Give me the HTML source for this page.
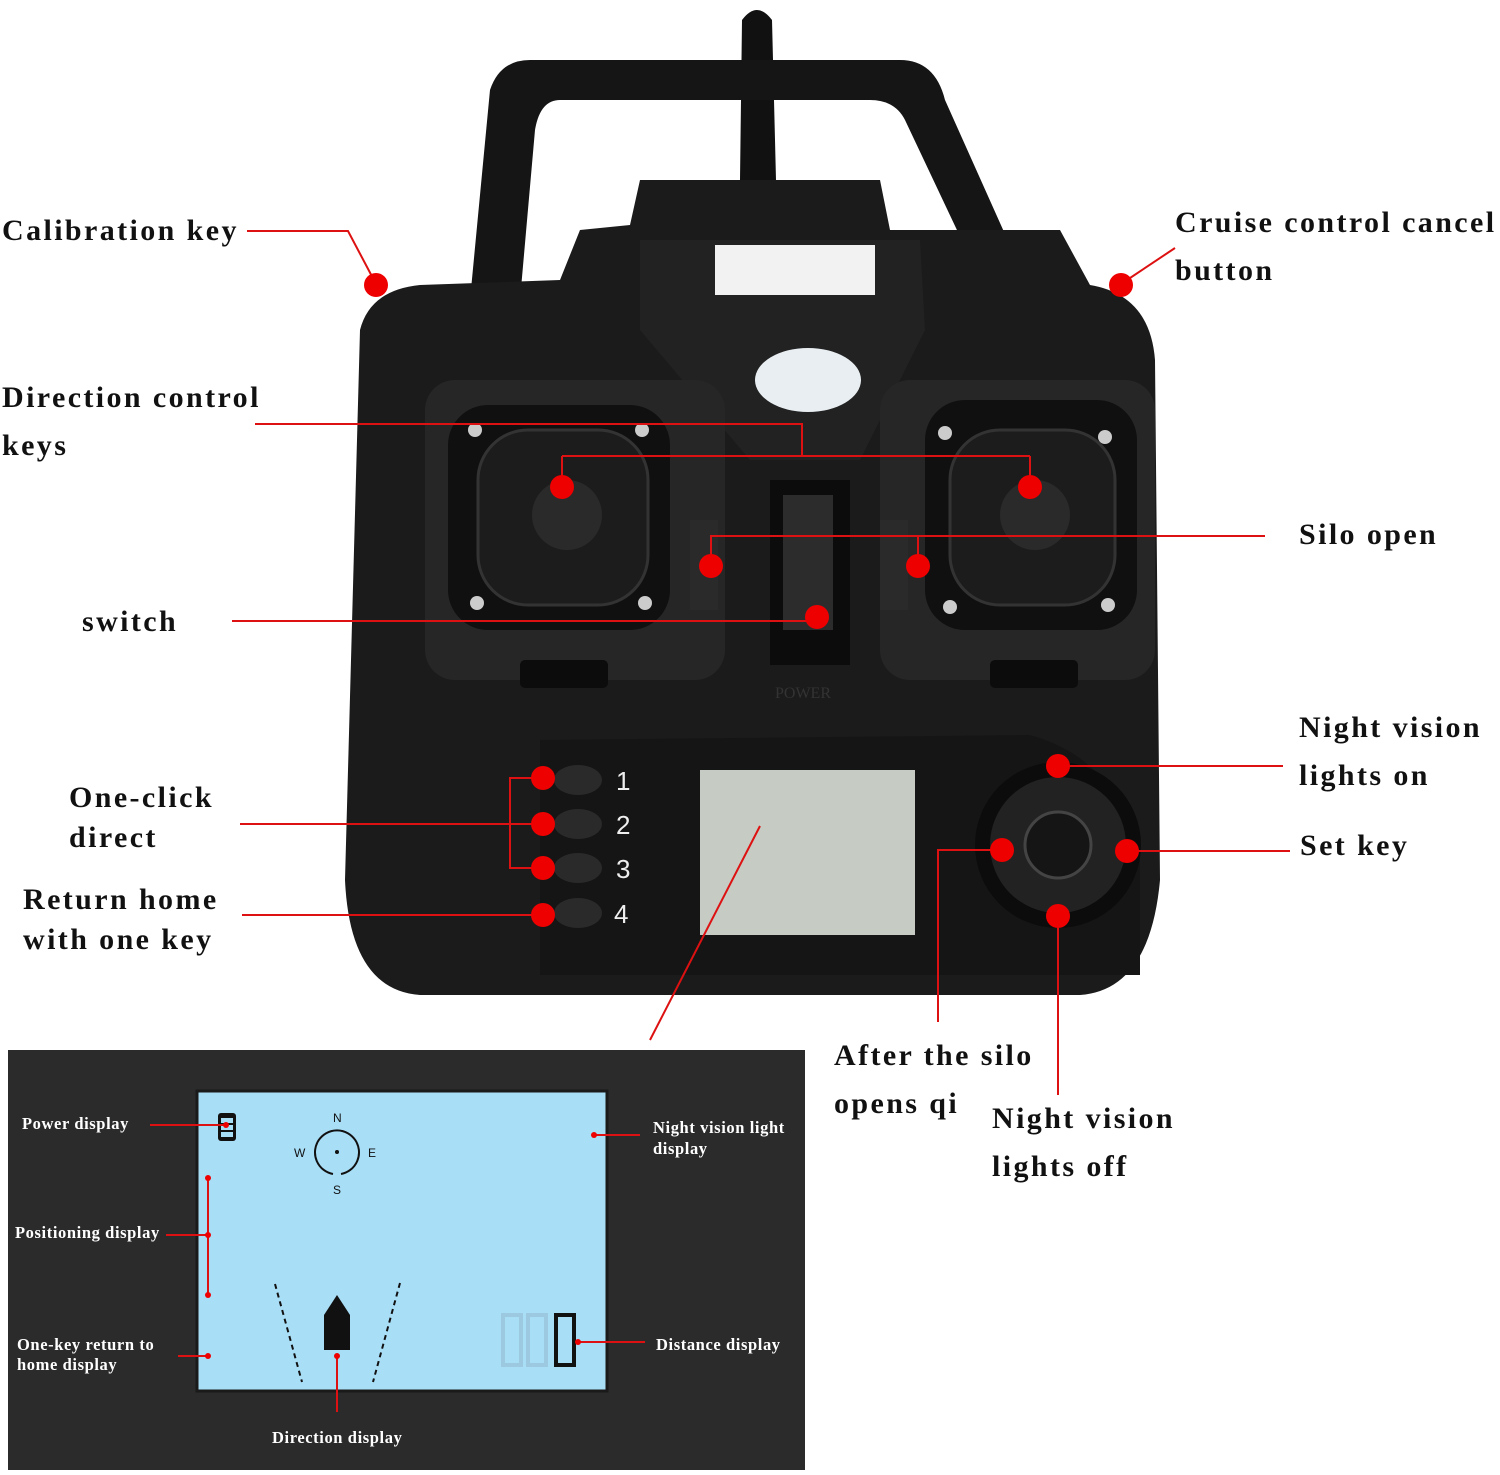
<!DOCTYPE html>
<html><head><meta charset="utf-8"><style>
html,body{margin:0;padding:0;background:#fff}
svg{display:block}
.t{font-family:"Liberation Serif",serif;font-weight:bold;font-size:30px;fill:#111;letter-spacing:2.4px}
.s{font-family:"Liberation Serif",serif;font-weight:bold;font-size:16.5px;fill:#fff;letter-spacing:0.6px}
.r{stroke:#d11;stroke-width:2;fill:none}
</style></head><body>
<svg width="1500" height="1475" viewBox="0 0 1500 1475">
<path d="M740 180 L742 20 Q757 0 772 20 L776 180 Z" fill="#111"/>
<path d="M470 300 L490 90 Q500 60 530 60 L900 60 Q935 60 945 100 L1030 290 L990 300 L905 120 Q895 100 870 100 L560 100 Q540 100 535 130 L520 300 Z" fill="#151515"/>
<path d="M360 330 Q370 290 420 285 L560 280 L580 230 L630 225 L640 180 L880 180 L890 230 L1060 230 L1090 285 Q1150 295 1155 360 L1160 880 Q1150 990 1080 995 L420 995 Q350 990 345 880 Z" fill="#1b1b1b"/>
<path d="M640 240 L920 240 L925 330 L860 460 L750 460 L640 330 Z" fill="#222"/>
<rect x="715" y="245" width="160" height="50" fill="#f2f2f2"/>
<ellipse cx="808" cy="380" rx="53" ry="32" fill="#e8eef2"/>
<rect x="425" y="380" width="300" height="300" rx="30" fill="#262626"/>
<rect x="880" y="380" width="275" height="300" rx="30" fill="#262626"/>
<rect x="448" y="405" width="222" height="225" rx="40" fill="#101010"/>
<rect x="925" y="400" width="212" height="230" rx="40" fill="#101010"/>
<rect x="478" y="430" width="170" height="175" rx="50" fill="#1c1c1c" stroke="#333" stroke-width="3"/>
<rect x="950" y="430" width="165" height="175" rx="50" fill="#1c1c1c" stroke="#333" stroke-width="3"/>
<circle cx="567" cy="515" r="35" fill="#2a2a2a"/><circle cx="1035" cy="515" r="35" fill="#2a2a2a"/>
<g fill="#ccc"><circle cx="475" cy="430" r="7"/><circle cx="642" cy="430" r="7"/><circle cx="477" cy="603" r="7"/><circle cx="645" cy="603" r="7"/>
<circle cx="945" cy="433" r="7"/><circle cx="1105" cy="437" r="7"/><circle cx="950" cy="607" r="7"/><circle cx="1108" cy="605" r="7"/></g>
<rect x="770" y="480" width="80" height="185" fill="#0c0c0c"/>
<rect x="783" y="495" width="50" height="135" fill="#2c2c2c"/>
<rect x="690" y="520" width="28" height="90" fill="#2a2a2a"/><rect x="880" y="520" width="28" height="90" fill="#2a2a2a"/>
<rect x="520" y="660" width="88" height="28" rx="5" fill="#0c0c0c"/><rect x="990" y="660" width="88" height="28" rx="5" fill="#0c0c0c"/>
<text x="775" y="698" font-family="Liberation Serif" font-size="16" fill="#333">POWER</text>
<path d="M540 740 L1030 735 Q1120 760 1140 860 L1140 975 L540 975 Z" fill="#151515"/>
<rect x="700" y="770" width="215" height="165" fill="#c6ccc4"/>
<g fill="#2a2a2a"><ellipse cx="578" cy="780" rx="24" ry="15"/><ellipse cx="578" cy="824" rx="24" ry="15"/><ellipse cx="578" cy="868" rx="24" ry="15"/><ellipse cx="578" cy="913" rx="24" ry="15"/></g>
<g font-family="Liberation Sans" font-size="26" fill="#eee"><text x="616" y="790">1</text><text x="616" y="834">2</text><text x="616" y="878">3</text><text x="614" y="923">4</text></g>
<circle cx="1058" cy="845" r="83" fill="#0c0c0c"/><circle cx="1058" cy="845" r="68" fill="#222"/><circle cx="1058" cy="845" r="33" fill="#151515" stroke="#444" stroke-width="3"/>
<g class="r">
<path d="M247 231 L348 231 L376 284"/>
<path d="M1175 248 L1121 284"/>
<path d="M255 424 L802 424 L802 456 M562 456 L1030 456 M562 456 L562 487 M1030 456 L1030 487"/>
<path d="M1265 536 L711 536 L711 566 M918 536 L918 566"/>
<path d="M232 621 L817 621"/>
<path d="M240 824 L543 824 M543 778 L510 778 L510 868 L543 868"/>
<path d="M242 915 L543 915"/>
<path d="M1058 766 L1283 766"/>
<path d="M1127 851 L1290 851"/>
<path d="M1002 850 L938 850 L938 1022"/>
<path d="M1058 916 L1058 1095"/>
<path d="M760 826 L650 1040"/>
</g>
<g fill="#e00">
<circle cx="376" cy="285" r="12"/><circle cx="1121" cy="285" r="12"/><circle cx="562" cy="487" r="12"/><circle cx="1030" cy="487" r="12"/>
<circle cx="711" cy="566" r="12"/><circle cx="918" cy="566" r="12"/><circle cx="817" cy="617" r="12"/>
<circle cx="543" cy="778" r="12"/><circle cx="543" cy="824" r="12"/><circle cx="543" cy="868" r="12"/><circle cx="543" cy="915" r="12"/>
<circle cx="1058" cy="766" r="12"/><circle cx="1127" cy="851" r="12"/><circle cx="1002" cy="850" r="12"/><circle cx="1058" cy="916" r="12"/>
</g>
<text class="t" x="2" y="240">Calibration key</text>
<text class="t" x="1175" y="232">Cruise control cancel</text>
<text class="t" x="1175" y="280">button</text>
<text class="t" x="2" y="407">Direction control</text>
<text class="t" x="2" y="455">keys</text>
<text class="t" x="1299" y="544">Silo open</text>
<text class="t" x="82" y="631">switch</text>
<text class="t" x="1299" y="737">Night vision</text>
<text class="t" x="1299" y="785">lights on</text>
<text class="t" x="69" y="807">One-click</text>
<text class="t" x="69" y="847">direct</text>
<text class="t" x="1300" y="855">Set key</text>
<text class="t" x="23" y="909">Return home</text>
<text class="t" x="23" y="949">with one key</text>
<text class="t" x="834" y="1065">After the silo</text>
<text class="t" x="834" y="1113">opens qi</text>
<text class="t" x="992" y="1128">Night vision</text>
<text class="t" x="992" y="1176">lights off</text>
<rect x="8" y="1050" width="797" height="420" fill="#2b2b2b"/>
<rect x="197" y="1091" width="410" height="300" fill="#a9def7" stroke="#1a1a1a" stroke-width="3"/>
<rect x="218" y="1113" width="18" height="28" rx="3" fill="#111"/>
<g fill="#a9def7"><rect x="221" y="1118" width="12" height="5"/><rect x="221" y="1125" width="12" height="5"/><rect x="221" y="1132" width="12" height="5"/></g>
<path d="M333 1174 A22 22 0 1 1 341 1174" fill="none" stroke="#111" stroke-width="2"/>
<circle cx="337" cy="1152" r="2" fill="#111"/>
<g font-family="Liberation Sans" font-size="12" fill="#111"><text x="333" y="1122">N</text><text x="294" y="1157">W</text><text x="368" y="1157">E</text><text x="333" y="1194">S</text></g>
<path d="M275 1284 L302 1382 M400 1283 L373 1382" stroke="#111" stroke-width="2" stroke-dasharray="5 4"/>
<path d="M337 1295 L350 1315 L350 1350 L324 1350 L324 1315 Z" fill="#111"/>
<g fill="none" stroke-width="4"><rect x="503" y="1315" width="18" height="50" stroke="#9cc9e0"/><rect x="528" y="1315" width="18" height="50" stroke="#9cc9e0"/><rect x="556" y="1315" width="18" height="50" stroke="#111"/></g>
<g class="r" stroke-width="1.5">
<path d="M150 1125 L226 1125 M208 1178 L208 1295 M166 1235 L208 1235 M178 1356 L208 1356 M337 1356 L337 1412 M594 1135 L640 1135 M578 1342 L645 1342"/>
</g>
<g fill="#e00"><circle cx="226" cy="1125" r="3"/><circle cx="208" cy="1178" r="3"/><circle cx="208" cy="1235" r="3"/><circle cx="208" cy="1295" r="3"/><circle cx="208" cy="1356" r="3"/><circle cx="337" cy="1356" r="3"/><circle cx="594" cy="1135" r="3"/><circle cx="578" cy="1342" r="3"/></g>
<text class="s" x="22" y="1129">Power display</text>
<text class="s" x="15" y="1238">Positioning display</text>
<text class="s" x="17" y="1350">One-key return to</text>
<text class="s" x="17" y="1370">home display</text>
<text class="s" x="653" y="1133">Night vision light</text>
<text class="s" x="653" y="1154">display</text>
<text class="s" x="656" y="1350">Distance display</text>
<text class="s" x="272" y="1443">Direction display</text>
</svg>
</body></html>
